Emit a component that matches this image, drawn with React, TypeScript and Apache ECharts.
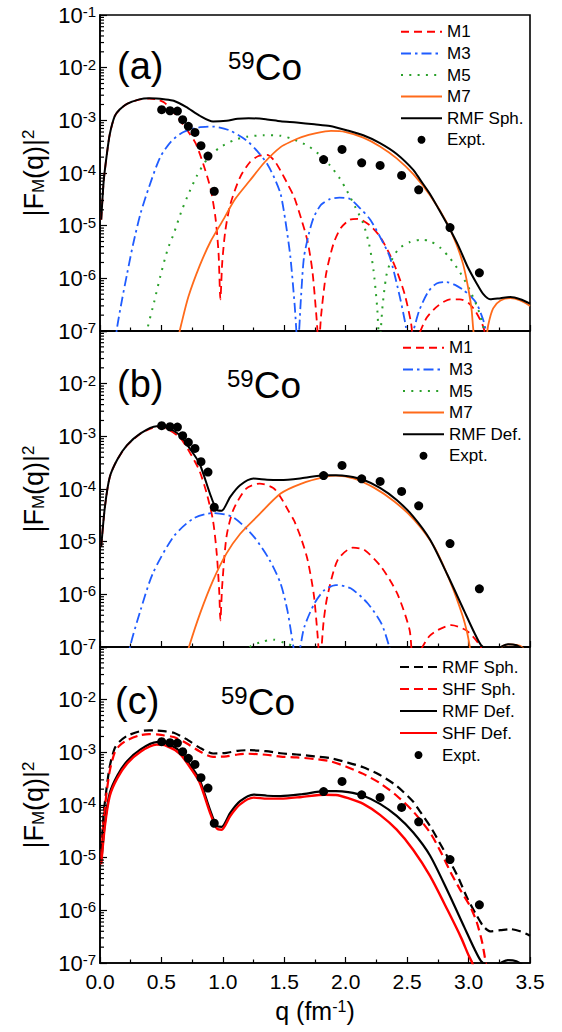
import React, { useEffect, useRef } from "react";
import * as echarts from "echarts";

const FONT = "'Liberation Sans', Arial, Helvetica, sans-serif";

// ---------- Data: [q (fm^-1), |F_M(q)|^2] ----------
const expt: number[][] = [
  [0.502, 1.59e-3], [0.57, 1.52e-3], [0.63, 1.5e-3], [0.673, 1.03e-3], [0.719, 7.7e-4],
  [0.773, 5.9e-4], [0.822, 3.3e-4], [0.879, 2.1e-4], [0.93, 4.5e-5], [1.82, 1.8e-4],
  [1.97, 2.8e-4], [2.13, 1.56e-4], [2.28, 1.39e-4], [2.455, 9e-5], [2.594, 4.8e-5],
  [2.849, 9.2e-6], [3.088, 1.27e-6],
];

const rmfSph: number[][] = [
  [0.01, 1.3e-5], [0.03, 7e-5], [0.055, 2.2e-4], [0.08, 5.5e-4], [0.12, 1.2e-3], [0.16, 1.6e-3],
  [0.22, 2.05e-3], [0.32, 2.5e-3], [0.4, 2.62e-3], [0.46, 2.6e-3], [0.52, 2.52e-3], [0.6, 2.35e-3],
  [0.7, 1.8e-3], [0.81, 1.23e-3], [0.92, 9.5e-4], [1.03, 9.8e-4], [1.12, 1.07e-3], [1.21, 1.1e-3],
  [1.35, 1.05e-3], [1.47, 9.6e-4], [1.6, 9.1e-4], [1.745, 8.4e-4], [1.872, 7.8e-4], [2.015, 6.4e-4],
  [2.143, 5.2e-4], [2.279, 3.7e-4], [2.415, 2.3e-4], [2.55, 1.15e-4], [2.6, 7.8e-5], [2.686, 4e-5],
  [2.76, 2e-5], [2.843, 9e-6], [2.92, 4e-6], [2.99, 1.7e-6], [3.066, 8e-7], [3.12, 5e-7],
  [3.175, 4e-7], [3.26, 4.2e-7], [3.34, 4.4e-7], [3.42, 4e-7], [3.5, 3.3e-7],
];

const m1Sph: number[][] = [
  [0.01, 1.3e-5], [0.03, 7e-5], [0.055, 2.2e-4], [0.08, 5.5e-4], [0.12, 1.2e-3], [0.16, 1.6e-3],
  [0.22, 2.05e-3], [0.32, 2.48e-3], [0.4, 2.58e-3], [0.46, 2.5e-3], [0.52, 2.2e-3], [0.58, 1.6e-3],
  [0.65, 1e-3], [0.72, 6e-4], [0.78, 3.6e-4], [0.84, 1.5e-4], [0.9, 5e-5], [0.94, 1.4e-5],
  [0.965, 3e-6], [0.98, 4e-7], [0.995, 2e-6], [1.02, 8e-6], [1.06, 2.5e-5], [1.14, 8.3e-5],
  [1.22, 1.6e-4], [1.29, 2.1e-4], [1.36, 2.2e-4], [1.42, 1.7e-4], [1.47, 1.1e-4], [1.53, 6e-5],
  [1.58, 3.5e-5], [1.64, 1.3e-5], [1.69, 5e-6], [1.73, 1.3e-6], [1.765, 1.5e-7], [1.78, 5e-8],
  [1.8, 2e-7], [1.84, 1.2e-6], [1.9, 4.5e-6], [1.96, 9e-6], [2.035, 1.3e-5], [2.1, 1.35e-5],
  [2.2, 1e-5], [2.279, 6.2e-6], [2.36, 2.8e-6], [2.415, 1.4e-6], [2.48, 5e-7], [2.53, 1.5e-7],
  [2.56, 5e-8], [2.6, 9e-8], [2.66, 1.8e-7], [2.75, 3e-7], [2.85, 4e-7], [2.93, 4e-7],
  [3.0, 3.4e-7], [3.06, 2.3e-7], [3.12, 1.2e-7], [3.15, 6e-8],
];

const m3Sph: number[][] = [
  [0.12, 5e-8], [0.14, 1.2e-7], [0.18, 4e-7], [0.22, 1.2e-6], [0.27, 4.5e-6], [0.33, 1.7e-5],
  [0.4, 5.5e-5], [0.49, 2e-4], [0.58, 4e-4], [0.68, 6e-4], [0.8, 7.3e-4], [0.92, 7.6e-4],
  [1.05, 6.5e-4], [1.19, 4.2e-4], [1.28, 2.6e-4], [1.36, 1.5e-4], [1.42, 8e-5], [1.47, 4e-5],
  [1.51, 1.2e-5], [1.55, 2.5e-6], [1.585, 3e-7], [1.61, 5e-8], [1.635, 4e-7], [1.66, 2.5e-6],
  [1.7, 7e-6], [1.74, 1.45e-5], [1.8, 2.5e-5], [1.872, 3.2e-5], [1.95, 3.4e-5], [2.035, 3.2e-5],
  [2.12, 2.1e-5], [2.2, 1.3e-5], [2.29, 5.5e-6], [2.36, 2.5e-6], [2.44, 4.5e-7], [2.49, 1.2e-7],
  [2.51, 5e-8], [2.55, 1e-7], [2.6, 2.5e-7], [2.67, 5.5e-7], [2.74, 8e-7], [2.822, 8.5e-7],
  [2.89, 7.5e-7], [2.957, 6e-7], [3.02, 4.5e-7], [3.066, 3.3e-7], [3.12, 1.6e-7], [3.15, 8e-8],
];

const m5Sph: number[][] = [
  [0.37, 6e-8], [0.39, 1.2e-7], [0.44, 3.5e-7], [0.49, 1.07e-6], [0.55, 3.5e-6], [0.6, 7e-6],
  [0.66, 1.8e-5], [0.71, 3.5e-5], [0.79, 9e-5], [0.87, 1.8e-4], [0.97, 3e-4], [1.09, 4.2e-4],
  [1.2, 4.9e-4], [1.33, 5.2e-4], [1.47, 5.1e-4], [1.58, 4.3e-4], [1.69, 3.3e-4], [1.8, 2.1e-4],
  [1.872, 1.4e-4], [1.95, 8e-5], [2.008, 4.7e-5], [2.08, 2.2e-5], [2.143, 1.1e-5], [2.19, 4.5e-6],
  [2.225, 1.5e-6], [2.255, 3e-7], [2.275, 6e-8], [2.3, 3e-7], [2.33, 1.1e-6], [2.36, 1.9e-6],
  [2.43, 3.6e-6], [2.523, 4.9e-6], [2.61, 5.4e-6], [2.686, 5.1e-6], [2.77, 3.8e-6], [2.849, 2.4e-6],
  [2.93, 1.3e-6], [3.01, 6e-7], [3.08, 2.5e-7], [3.14, 8e-8],
];

const m7Sph: number[][] = [
  [0.64, 8e-8], [0.66, 1.3e-7], [0.72, 4.5e-7], [0.81, 1.7e-6], [0.9, 5e-6], [1.0, 1.26e-5],
  [1.1, 3.2e-5], [1.22, 7.2e-5], [1.34, 1.6e-4], [1.47, 3.1e-4], [1.56, 4e-4], [1.64, 4.8e-4],
  [1.76, 5.7e-4], [1.88, 6.3e-4], [2.0, 6e-4], [2.143, 4.7e-4], [2.279, 3.2e-4], [2.415, 1.9e-4],
  [2.55, 9.5e-5], [2.686, 3.8e-5], [2.822, 1.15e-5], [2.9, 4.5e-6], [2.957, 1.8e-6], [3.0, 6e-7],
  [3.025, 2.5e-7], [3.045, 8e-8], [3.08, 5e-8], [3.12, 5e-8], [3.14, 6e-8], [3.16, 1.3e-7],
  [3.2, 2.7e-7], [3.26, 3.8e-7], [3.34, 4.2e-7], [3.42, 3.8e-7], [3.5, 3e-7],
];

const rmfDef: number[][] = [
  [0.01, 8e-6], [0.04, 4.6e-5], [0.08, 1.7e-4], [0.14, 3.6e-4], [0.22, 6.8e-4], [0.33, 1.14e-3],
  [0.46, 1.56e-3], [0.54, 1.48e-3], [0.65, 1.05e-3], [0.73, 5.9e-4], [0.81, 3.05e-4],
  [0.895, 8.2e-5], [0.95, 4e-5], [0.99, 3.85e-5], [1.06, 7.1e-5], [1.14, 1.18e-4], [1.25, 1.58e-4],
  [1.36, 1.5e-4], [1.47, 1.48e-4], [1.64, 1.6e-4], [1.83, 1.83e-4], [1.92, 1.83e-4],
  [2.02, 1.75e-4], [2.143, 1.5e-4], [2.279, 1.05e-4], [2.415, 6.2e-5], [2.55, 3e-5],
  [2.686, 1.1e-5], [2.83, 2.3e-6], [2.965, 4.8e-7], [3.05, 1.8e-7], [3.1, 1.1e-7], [3.15, 9e-8],
  [3.2, 8.5e-8], [3.26, 1e-7], [3.32, 1.13e-7], [3.39, 1.08e-7], [3.45, 9e-8], [3.5, 8e-8],
];

const m1Def: number[][] = [
  [0.01, 8e-6], [0.04, 4.6e-5], [0.08, 1.7e-4], [0.14, 3.6e-4], [0.22, 6.7e-4], [0.33, 1.12e-3],
  [0.46, 1.5e-3], [0.54, 1.4e-3], [0.65, 9.5e-4], [0.73, 5e-4], [0.81, 2.2e-4], [0.87, 8e-5],
  [0.92, 2.5e-5], [0.95, 6e-6], [0.97, 1.2e-6], [0.98, 3.2e-7], [0.995, 1.5e-6], [1.03, 1.26e-5],
  [1.085, 4e-5], [1.19, 1.02e-4], [1.3, 1.27e-4], [1.41, 1.05e-4], [1.47, 7e-5], [1.53, 4e-5],
  [1.58, 2.5e-5], [1.64, 1.1e-5], [1.69, 4.5e-6], [1.74, 1e-6], [1.77, 1.8e-7], [1.79, 5e-8],
  [1.82, 3e-7], [1.85, 9e-7], [1.935, 4.5e-6], [2.057, 7.7e-6], [2.15, 7e-6], [2.29, 3.3e-6],
  [2.42, 1.03e-6], [2.52, 2.1e-7], [2.55, 5e-8], [2.6, 8e-8], [2.68, 1.6e-7], [2.75, 2.1e-7],
  [2.86, 2.6e-7], [2.99, 2e-7], [3.1, 1e-7], [3.14, 5e-8],
];

const m3Def: number[][] = [
  [0.23, 5e-8], [0.244, 1e-7], [0.33, 5e-7], [0.43, 2.5e-6], [0.6, 1.26e-5], [0.76, 2.75e-5],
  [0.92, 3.5e-5], [1.085, 2.9e-5], [1.25, 1.26e-5], [1.38, 4.5e-6], [1.47, 1.6e-6], [1.525, 5e-7],
  [1.567, 1.3e-7], [1.6, 5e-8], [1.63, 1e-7], [1.663, 2.4e-7], [1.745, 6.7e-7], [1.826, 1.2e-6],
  [1.92, 1.5e-6], [2.04, 1.3e-6], [2.18, 6.7e-7], [2.29, 2.8e-7], [2.355, 1e-7], [2.38, 5e-8],
];

const m5Def: number[][] = [
  [1.18, 5e-8], [1.22, 1e-7], [1.32, 1.25e-7], [1.41, 1.38e-7], [1.5, 1.2e-7], [1.58, 1e-7],
  [1.62, 6e-8],
];

const m7Def: number[][] = [
  [0.7, 6e-8], [0.724, 1e-7], [0.814, 4.3e-7], [0.923, 1.9e-6], [1.03, 6e-6], [1.14, 1.4e-5],
  [1.276, 2.95e-5], [1.47, 8.2e-5], [1.64, 1.27e-4], [1.83, 1.7e-4], [1.92, 1.8e-4],
  [2.07, 1.58e-4], [2.233, 1.05e-4], [2.396, 5.8e-5], [2.558, 2.6e-5], [2.72, 8e-6],
  [2.857, 1.6e-6], [2.95, 4e-7], [2.99, 1.8e-7], [3.01, 1e-7], [3.03, 5e-8], [3.2, 5e-8],
  [3.24, 8e-8], [3.28, 1.05e-7], [3.34, 1.12e-7], [3.42, 1.05e-7], [3.47, 8e-8],
];

const shfSph: number[][] = [
  [0.01, 1e-5], [0.03, 5.5e-5], [0.055, 1.8e-4], [0.08, 4.5e-4], [0.12, 1e-3], [0.16, 1.35e-3],
  [0.22, 1.7e-3], [0.32, 2.1e-3], [0.4, 2.22e-3], [0.46, 2.2e-3], [0.52, 2.1e-3], [0.6, 1.95e-3],
  [0.7, 1.5e-3], [0.81, 1.05e-3], [0.92, 8.2e-4], [1.03, 8.4e-4], [1.12, 9.1e-4], [1.21, 9.4e-4],
  [1.35, 9e-4], [1.47, 8.3e-4], [1.6, 8e-4], [1.745, 7.5e-4], [1.872, 6.8e-4], [2.0, 5.4e-4],
  [2.143, 3.9e-4], [2.279, 2.6e-4], [2.415, 1.5e-4], [2.55, 7.5e-5], [2.686, 3e-5],
  [2.773, 1.3e-5], [2.85, 5.5e-6], [2.93, 2.5e-6], [3.012, 1.2e-6], [3.066, 6e-7], [3.11, 2.5e-7],
  [3.14, 1e-7], [3.16, 5e-8],
];

const shfDef: number[][] = [
  [0.01, 7.5e-6], [0.04, 4e-5], [0.08, 1.5e-4], [0.14, 3.2e-4], [0.22, 6.1e-4], [0.33, 1.03e-3],
  [0.46, 1.4e-3], [0.54, 1.33e-3], [0.65, 9.4e-4], [0.73, 5.3e-4], [0.81, 2.7e-4], [0.895, 7.2e-5],
  [0.95, 3.6e-5], [0.99, 3.4e-5], [1.06, 6.2e-5], [1.14, 1.03e-4], [1.25, 1.38e-4], [1.36, 1.32e-4],
  [1.47, 1.32e-4], [1.64, 1.42e-4], [1.83, 1.57e-4], [1.92, 1.55e-4], [2.02, 1.35e-4],
  [2.143, 1.05e-4], [2.279, 6.5e-5], [2.415, 3.4e-5], [2.55, 1.4e-5], [2.686, 4.5e-6],
  [2.83, 1e-6], [2.94, 3e-7], [3.0, 1.4e-7], [3.03, 1e-7], [3.06, 5e-8],
];

// axis ticks
const xMin = 0;
const xMax = 3.5;
const xStep = 0.5;
const yMin = 1e-7;
const yMax = 1e-1;
const minorMultipliers = [2, 3, 4, 5, 6, 7, 8, 9];
const minorDecades = [1e-7, 1e-6, 1e-5, 1e-4, 1e-3, 1e-2];

// legends
const legendA = ["M1#a", "M3#a", "M5#a", "M7#a", "RMF Sph.#a", "Expt.#a"];
const legendB = ["M1#b", "M3#b", "M5#b", "M7#b", "RMF Def.#b", "Expt.#b"];
const legendC = ["RMF Sph.#c", "SHF Sph.#c", "RMF Def.#c", "SHF Def.#c", "Expt.#c"];

const RED = "#ff0000";
const BLUE = "#1f5cff";
const GREEN = "#2aa02a";
const ORANGE = "#ff6a1a";
const BLACK = "#000000";

const DASH = [8, 5];
const DASHDOT = [10, 4, 2.5, 4];
const DOT = [2, 6.3];
const DASH_C = [9, 5];

function line(name: string, data: number[][], idx: number, color: string, width: number, dash?: any) {
  return {
    type: "line",
    name,
    data,
    xAxisIndex: idx,
    yAxisIndex: idx,
    showSymbol: false,
    symbol: "none",
    smooth: 0.25,
    clip: true,
    lineStyle: { color, width, type: dash || "solid", cap: "butt" },
    itemStyle: { color },
    z: 3,
  };
}

function dots(name: string, idx: number) {
  return {
    type: "scatter",
    name,
    data: expt,
    xAxisIndex: idx,
    yAxisIndex: idx,
    symbol: "circle",
    symbolSize: 9,
    itemStyle: { color: BLACK, opacity: 1 },
    z: 4,
  };
}

function minorTicks(idx: number) {
  const vals: number[][] = [];
  minorDecades.forEach((d) => minorMultipliers.forEach((m) => vals.push([xMin, m * d])));
  return {
    type: "custom",
    xAxisIndex: idx,
    yAxisIndex: idx,
    data: vals,
    silent: true,
    clip: false,
    z: 6,
    renderItem: (_p: any, api: any) => {
      const pt = api.coord([api.value(0), api.value(1)]);
      return {
        type: "line",
        shape: { x1: pt[0], y1: pt[1], x2: pt[0] + 4, y2: pt[1] },
        style: { stroke: BLACK, lineWidth: 1.2 },
      };
    },
  };
}

const GRID_TOPS = [15, 331, 647];
const GRID_H = 316;

function legendItems(names: string[]) {
  return names.map((n) =>
    n.startsWith("Expt.") ? { name: n } : { name: n, itemStyle: { opacity: 0 } }
  );
}

function buildOption() {
  const grid = GRID_TOPS.map((t) => ({
    left: 100,
    right: 32,
    top: t,
    height: GRID_H,
    show: true,
    borderColor: BLACK,
    borderWidth: 1.6,
    backgroundColor: "transparent",
  }));

  const xAxis = [0, 1, 2].map((i) => ({
    gridIndex: i,
    type: "value",
    min: xMin,
    max: xMax,
    interval: xStep,
    axisLine: { show: true, onZero: false, lineStyle: { color: BLACK, width: 1.6 } },
    axisTick: { show: true, inside: true, length: 6, lineStyle: { color: BLACK, width: 1.2 } },
    minorTick: { show: true, splitNumber: 2, length: 3.5, lineStyle: { color: BLACK, width: 1.2 } },
    splitLine: { show: false },
    axisLabel: {
      show: i === 2,
      fontSize: 21,
      color: BLACK,
      fontFamily: FONT,
      margin: 8,
      formatter: (v: number) => v.toFixed(1),
    },
    name: i === 2 ? "q (fm{s|-1})" : "",
    nameLocation: "middle",
    nameGap: 35,
    nameTextStyle: {
      fontSize: 25,
      color: BLACK,
      fontFamily: FONT,
      rich: { s: { fontSize: 16, color: BLACK, fontFamily: FONT, verticalAlign: "top" } },
    },
  }));

  const yAxis = [0, 1, 2].map((i) => ({
    gridIndex: i,
    type: "log",
    logBase: 10,
    min: yMin,
    max: yMax,
    splitNumber: 6,
    axisLine: { show: true, onZero: false, lineStyle: { color: BLACK, width: 1.6 } },
    axisTick: { show: true, inside: true, length: 7, lineStyle: { color: BLACK, width: 1.2 } },
    splitLine: { show: false },
    axisLabel: {
      margin: 4,
      formatter: (v: number) => {
        const e = Math.round(Math.log10(v));
        // the top label of the lower panels coincides with the bottom label of the panel above
        if (i > 0 && e >= -1) return "";
        return "{b|10}{s|" + e + "}";
      },
      rich: {
        b: { fontSize: 22, color: BLACK, fontFamily: FONT },
        s: { fontSize: 15, color: BLACK, fontFamily: FONT, verticalAlign: "top" },
      },
    },
    name: "|F{sub|M}(q)|{sup|2}",
    nameLocation: "middle",
    nameRotate: 90,
    nameGap: 50,
    nameTextStyle: {
      fontSize: 27,
      color: BLACK,
      fontFamily: FONT,
      rich: {
        sub: { fontSize: 17, color: BLACK, fontFamily: FONT, verticalAlign: "bottom" },
        sup: { fontSize: 17, color: BLACK, fontFamily: FONT, verticalAlign: "top" },
      },
    },
  }));

  const legendBase = {
    orient: "vertical",
    itemWidth: 41,
    itemHeight: 8,
    itemGap: 0,
    padding: 0,
    selectedMode: false,
    formatter: (n: string) => n.split("#")[0],
    textStyle: { fontSize: 17, color: BLACK, fontFamily: FONT, lineHeight: 21.6 },
  };

  const legend = [
    { ...legendBase, left: 400, top: 21, data: legendItems(legendA) },
    { ...legendBase, left: 402, top: 337, data: legendItems(legendB) },
    {
      ...legendBase,
      left: 399,
      top: 656,
      itemWidth: 37,
      textStyle: { ...legendBase.textStyle, lineHeight: 22 },
      data: legendItems(legendC),
    },
  ];

  const series: any[] = [
    line("M1#a", m1Sph, 0, RED, 1.8, DASH),
    line("M3#a", m3Sph, 0, BLUE, 1.8, DASHDOT),
    line("M5#a", m5Sph, 0, GREEN, 2, DOT),
    line("M7#a", m7Sph, 0, ORANGE, 1.8),
    line("RMF Sph.#a", rmfSph, 0, BLACK, 2),
    dots("Expt.#a", 0),

    line("M1#b", m1Def, 1, RED, 1.8, DASH),
    line("M3#b", m3Def, 1, BLUE, 1.8, DASHDOT),
    line("M5#b", m5Def, 1, GREEN, 2, DOT),
    line("M7#b", m7Def, 1, ORANGE, 1.8),
    line("RMF Def.#b", rmfDef, 1, BLACK, 2),
    dots("Expt.#b", 1),

    line("RMF Sph.#c", rmfSph, 2, BLACK, 2.2, DASH_C),
    line("SHF Sph.#c", shfSph, 2, RED, 2.2, DASH_C),
    line("RMF Def.#c", rmfDef, 2, BLACK, 2.2),
    line("SHF Def.#c", shfDef, 2, RED, 2.4),
    dots("Expt.#c", 2),

    minorTicks(0),
    minorTicks(1),
    minorTicks(2),
  ];

  const panelLabel = (txt: string, x: number, y: number) => ({
    type: "text",
    x,
    y,
    style: { text: txt, fontSize: 38, fontFamily: FONT, fill: BLACK, verticalAlign: "middle", align: "left" },
  });
  const nucleus = (x: number, y: number) => ({
    type: "text",
    x,
    y,
    style: {
      text: "{s|59}{m|Co}",
      verticalAlign: "middle",
      align: "left",
      rich: {
        s: { fontSize: 24, fontFamily: FONT, fill: BLACK, verticalAlign: "top" },
        m: { fontSize: 37, fontFamily: FONT, fill: BLACK },
      },
    },
  });

  const graphic = [
    panelLabel("(a)", 117, 66),
    nucleus(228, 67),
    panelLabel("(b)", 117, 384),
    nucleus(227, 385),
    panelLabel("(c)", 115, 701),
    nucleus(221, 702),
  ];

  return {
    animation: false,
    backgroundColor: "#ffffff",
    grid,
    xAxis,
    yAxis,
    legend,
    series,
    graphic,
  };
}

export default function App() {
  const ref = useRef<HTMLDivElement>(null);
  useEffect(() => {
    document.body.style.margin = "0";
    const chart = echarts.init(ref.current as HTMLDivElement, null, { renderer: "svg", width: 562, height: 1032 });
    chart.setOption(buildOption() as any);
    return () => chart.dispose();
  }, []);
  return <div ref={ref} style={{ width: 562, height: 1032, background: "#fff" }} />;
}
